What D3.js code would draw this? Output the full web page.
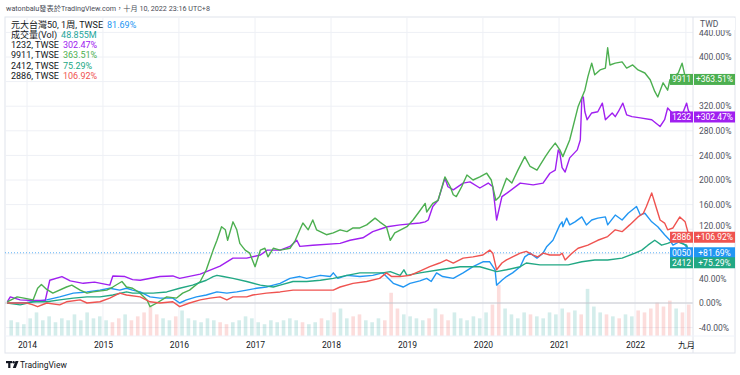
<!DOCTYPE html>
<html>
<head>
<meta charset="utf-8">
<script src="https://cdn.jsdelivr.net/npm/d3@7"></script>
<style>
body { margin:0; background:#fff; }
text { font-family: Roboto, "Noto Sans CJK TC", sans-serif; }
</style>
</head>
<body>
<div id="chart-area"></div>
<script>
// percent change since start, [decimal year, %]
const s0050 = [[2013.74,0],[2013.87,0],[2014.00,1],[2014.08,2],[2014.26,5],[2014.43,10],[2014.61,16],[2014.79,18],[2014.96,21],[2015.09,24],[2015.22,21],[2015.31,24],[2015.39,21],[2015.49,18],[2015.62,10],[2015.75,8],[2015.92,8],[2016.01,0],[2016.10,5],[2016.23,10],[2016.36,13],[2016.50,18],[2016.63,16],[2016.76,18],[2016.89,21],[2017.02,24],[2017.15,26],[2017.24,29],[2017.33,32],[2017.46,40],[2017.59,43],[2017.68,40],[2017.86,45],[2017.99,43],[2018.03,49],[2018.09,40],[2018.21,45],[2018.38,43],[2018.55,45],[2018.68,49],[2018.73,43],[2018.82,32],[2018.95,26],[2019.04,32],[2019.17,36],[2019.26,40],[2019.32,35],[2019.39,49],[2019.47,43],[2019.61,40],[2019.74,49],[2019.87,59],[2020.00,67],[2020.09,67],[2020.16,54],[2020.18,29],[2020.25,37],[2020.31,43],[2020.39,49],[2020.49,59],[2020.55,75],[2020.62,81],[2020.71,73],[2020.79,81],[2020.84,92],[2020.92,102],[2021.01,127],[2021.04,132],[2021.05,124],[2021.10,138],[2021.14,127],[2021.21,132],[2021.30,140],[2021.36,127],[2021.43,135],[2021.51,138],[2021.61,140],[2021.64,127],[2021.74,143],[2021.83,135],[2021.91,146],[2022.02,157],[2022.07,143],[2022.13,146],[2022.22,132],[2022.30,124],[2022.39,111],[2022.46,102],[2022.50,94],[2022.59,100],[2022.66,94],[2022.74,81.69]];

const s1232 = [[2013.74,2],[2013.78,10],[2013.91,5],[2014.08,4],[2014.24,4],[2014.30,37],[2014.46,43],[2014.57,36],[2014.74,32],[2014.89,34],[2015.09,29],[2015.13,44],[2015.29,43],[2015.39,38],[2015.49,37],[2015.75,43],[2015.92,44],[2016.01,40],[2016.28,47],[2016.54,60],[2016.71,73],[2016.89,73],[2017.07,78],[2017.16,86],[2017.33,86],[2017.46,92],[2017.55,102],[2017.59,92],[2017.76,94],[2018.12,97],[2018.25,102],[2018.42,106],[2018.55,116],[2018.74,124],[2018.91,127],[2019.17,130],[2019.24,132],[2019.28,135],[2019.34,157],[2019.41,167],[2019.50,203],[2019.54,189],[2019.61,184],[2019.74,195],[2019.83,197],[2019.96,187],[2020.07,195],[2020.13,189],[2020.18,135],[2020.25,173],[2020.32,179],[2020.49,195],[2020.66,192],[2020.79,195],[2020.88,211],[2020.95,216],[2020.99,249],[2021.01,244],[2021.04,220],[2021.08,213],[2021.14,236],[2021.24,249],[2021.28,265],[2021.30,333],[2021.32,335],[2021.34,311],[2021.37,298],[2021.43,309],[2021.51,311],[2021.57,325],[2021.61,298],[2021.70,309],[2021.74,303],[2021.78,311],[2021.84,325],[2021.89,306],[2021.96,303],[2022.07,301],[2022.22,298],[2022.33,287],[2022.39,298],[2022.43,317],[2022.49,309],[2022.57,311],[2022.62,306],[2022.68,325],[2022.70,314],[2022.74,302.47]];

const s9911 = [[2013.74,2],[2013.87,10],[2013.96,8],[2014.08,5],[2014.14,24],[2014.19,30],[2014.26,22],[2014.34,16],[2014.52,26],[2014.59,29],[2014.70,21],[2014.79,16],[2014.87,18],[2015.05,21],[2015.13,26],[2015.25,35],[2015.31,26],[2015.39,24],[2015.49,16],[2015.58,5],[2015.62,-6],[2015.71,0],[2015.84,10],[2015.97,8],[2016.05,16],[2016.14,21],[2016.28,35],[2016.36,54],[2016.45,86],[2016.50,102],[2016.56,124],[2016.61,119],[2016.64,102],[2016.71,132],[2016.76,119],[2016.80,97],[2016.87,86],[2016.93,81],[2017.00,59],[2017.07,86],[2017.13,89],[2017.17,75],[2017.24,89],[2017.33,86],[2017.46,89],[2017.53,102],[2017.59,119],[2017.63,130],[2017.70,119],[2017.76,135],[2017.81,119],[2017.94,111],[2018.03,114],[2018.12,119],[2018.21,116],[2018.29,122],[2018.38,122],[2018.47,127],[2018.58,138],[2018.64,132],[2018.73,124],[2018.78,102],[2018.84,114],[2019.00,124],[2019.08,135],[2019.17,150],[2019.24,162],[2019.26,148],[2019.34,162],[2019.41,167],[2019.50,205],[2019.57,189],[2019.61,176],[2019.65,173],[2019.72,189],[2019.79,208],[2019.87,200],[2019.96,205],[2020.05,211],[2020.11,200],[2020.17,167],[2020.22,173],[2020.31,203],[2020.38,195],[2020.46,216],[2020.55,238],[2020.62,222],[2020.71,216],[2020.82,238],[2020.88,249],[2020.95,260],[2021.01,249],[2021.05,238],[2021.14,265],[2021.25,319],[2021.34,346],[2021.38,368],[2021.43,390],[2021.47,371],[2021.54,379],[2021.61,382],[2021.64,415],[2021.67,387],[2021.74,390],[2021.83,392],[2021.89,382],[2021.97,387],[2022.04,379],[2022.13,374],[2022.20,363],[2022.26,344],[2022.30,335],[2022.37,358],[2022.43,346],[2022.46,363],[2022.57,374],[2022.62,390],[2022.66,368],[2022.74,363.51]];

const s2412 = [[2013.74,0],[2013.91,-3],[2014.08,2],[2014.26,2],[2014.43,5],[2014.61,8],[2014.79,10],[2014.96,10],[2015.13,13],[2015.31,18],[2015.39,16],[2015.49,16],[2015.66,16],[2015.84,18],[2016.01,24],[2016.18,29],[2016.36,37],[2016.45,43],[2016.50,45],[2016.58,43],[2016.71,40],[2016.89,35],[2017.07,29],[2017.24,26],[2017.33,29],[2017.50,35],[2017.68,35],[2017.86,37],[2018.03,40],[2018.21,45],[2018.38,49],[2018.55,49],[2018.68,49],[2018.78,51],[2018.91,45],[2018.96,54],[2019.00,45],[2019.17,49],[2019.43,54],[2019.70,59],[2019.96,59],[2020.18,51],[2020.31,54],[2020.49,59],[2020.57,65],[2020.75,62],[2021.01,62],[2021.12,62],[2021.30,67],[2021.47,70],[2021.64,70],[2021.83,73],[2022.00,81],[2022.09,86],[2022.17,94],[2022.26,102],[2022.35,94],[2022.43,97],[2022.53,102],[2022.61,97],[2022.68,94],[2022.70,86],[2022.74,75.29]];

const s2886 = [[2013.74,0],[2014.00,0],[2014.08,-3],[2014.14,-6],[2014.26,0],[2014.43,-3],[2014.52,2],[2014.70,5],[2014.79,0],[2014.96,2],[2015.09,8],[2015.22,16],[2015.31,13],[2015.49,10],[2015.62,2],[2015.75,0],[2015.92,2],[2016.01,-6],[2016.14,0],[2016.28,5],[2016.41,8],[2016.54,10],[2016.63,5],[2016.71,10],[2016.89,10],[2016.97,13],[2017.15,16],[2017.33,18],[2017.50,21],[2017.86,21],[2018.03,21],[2018.12,26],[2018.29,32],[2018.47,35],[2018.64,40],[2018.73,49],[2018.80,43],[2018.91,43],[2019.04,45],[2019.17,52],[2019.30,59],[2019.43,65],[2019.52,70],[2019.61,65],[2019.74,73],[2019.87,75],[2020.00,78],[2020.09,86],[2020.13,81],[2020.18,54],[2020.25,65],[2020.31,70],[2020.39,75],[2020.49,81],[2020.57,84],[2020.66,78],[2020.72,75],[2020.79,81],[2020.88,78],[2021.01,78],[2021.04,81],[2021.08,70],[2021.17,81],[2021.25,89],[2021.38,94],[2021.51,102],[2021.64,108],[2021.74,119],[2021.83,116],[2021.93,127],[2022.04,140],[2022.11,146],[2022.15,157],[2022.22,179],[2022.26,163],[2022.33,135],[2022.39,130],[2022.43,119],[2022.50,122],[2022.59,140],[2022.66,132],[2022.70,114],[2022.74,106.92]];

// 0050 volume, monthly average (M), from 2013-10
const volume = [40,35,30,
  45,60,40,50,35,45,40,55,40,60,45,50,
  40,35,45,55,40,50,60,75,55,45,40,50,
  65,45,40,35,45,40,35,30,35,40,50,45,
  35,30,40,35,40,45,40,35,30,35,45,40,
  60,70,45,50,55,40,35,45,40,110,70,55,
  50,45,40,45,70,55,40,60,45,40,50,45,
  60,80,130,70,55,45,60,55,50,45,60,55,
  70,60,65,55,120,75,60,55,50,45,55,50,
  65,60,70,85,75,90,70,60,80,50];

const series = [
  { code:"0050", data:s0050, last:81.69, color:"#2196f3" },
  { code:"1232", data:s1232, last:302.47, color:"#a020f0" },
  { code:"9911", data:s9911, last:363.51, color:"#4caf50" },
  { code:"2412", data:s2412, last:75.29, color:"#22a884" },
  { code:"2886", data:s2886, last:106.92, color:"#ef5350" }
];

const xTickLabels = ["2014","2015","2016","2017","2018","2019","2020","2021","2022","九月"];
const xTickDates = [2014,2015,2016,2017,2018,2019,2020,2021,2022,2022.67];
const yTicks = [-40,0,40,80,120,160,200,240,280,320,360,400,440];

const W = 740, H = 375;
const plot = { left:5, right:693, top:17, bottom:336 };
const FONT = 'Roboto, "Noto Sans CJK TC", sans-serif';

function toDate(t){
  const yr = Math.floor(t);
  const a = new Date(yr,0,1), b = new Date(yr+1,0,1);
  return new Date(+a + (t-yr)*(b-a));
}

const svg = d3.select("#chart-area").append("svg")
  .attr("width", W).attr("height", H);

const x = d3.scaleTime()
  .domain([new Date(2014,0,1), new Date(2022,0,1)])
  .range([27, 635]);
const y = d3.scaleLinear().domain([0,400]).range([303,57]);
const vy = d3.scaleLinear().domain([0,140]).range([plot.bottom, plot.bottom-55]);

svg.append("clipPath").attr("id","clip")
  .append("rect").attr("x",plot.left).attr("y",plot.top)
  .attr("width",plot.right-plot.left).attr("height",plot.bottom-plot.top);

// panel border
svg.append("rect").attr("x",5).attr("y",17).attr("width",730).attr("height",336)
  .attr("fill","none").attr("stroke","#e0e3eb");

// grid
const grid = svg.append("g").attr("clip-path","url(#clip)");
grid.selectAll(".vg").data(xTickDates).enter().append("line")
  .attr("x1",d=>x(toDate(d))).attr("x2",d=>x(toDate(d)))
  .attr("y1",plot.top).attr("y2",plot.bottom)
  .attr("stroke","#eef0f5");
grid.selectAll(".hg").data(yTicks).enter().append("line")
  .attr("x1",plot.left).attr("x2",plot.right)
  .attr("y1",d=>y(d)).attr("y2",d=>y(d))
  .attr("stroke","#eef0f5");

// volume bars
const g = svg.append("g").attr("clip-path","url(#clip)");
function valueAt(data, t){
  for (let i=1;i<data.length;i++){
    if (data[i][0] >= t){
      const a=data[i-1], b=data[i];
      return a[1] + (b[1]-a[1])*(t-a[0])/(b[0]-a[0]);
    }
  }
  return data[data.length-1][1];
}
const volBars = volume.map((v,i)=>{
  const t0 = 2013.75 + i/12, t1 = t0 + 1/12;
  const up = valueAt(s0050, Math.min(t1,2022.74)) >= valueAt(s0050, t0);
  return { t:t0 + 1/24, v:v, up:up };
});
g.selectAll(".vol").data(volBars).enter().append("rect")
  .attr("x",d=>x(toDate(d.t))-1.8)
  .attr("width",3.6)
  .attr("y",d=>vy(d.v))
  .attr("height",d=>plot.bottom-vy(d.v))
  .attr("fill",d=>d.up ? "#26a69a" : "#ef5350")
  .attr("opacity",0.2);

// zero line
g.append("line").attr("x1",plot.left).attr("x2",plot.right)
  .attr("y1",y(0)).attr("y2",y(0)).attr("stroke","#c8cad0");

// last value dotted line of main symbol
g.append("line").attr("x1",plot.left).attr("x2",plot.right)
  .attr("y1",y(81.69)).attr("y2",y(81.69))
  .attr("stroke","#2196f3").attr("stroke-dasharray","1,2").attr("opacity",0.7);

const line = d3.line()
  .x(d=>x(toDate(d[0])))
  .y(d=>y(d[1]));

g.selectAll(".series").data(series).enter().append("path")
  .attr("d",d=>line(d.data))
  .attr("fill","none")
  .attr("stroke",d=>d.color)
  .attr("stroke-width",1.4)
  .attr("stroke-linejoin","round");

// last value tags, pushed apart
const tags = series.map(s=>({ s:s, y:y(s.last) })).sort((a,b)=>a.y-b.y);
for (let i=1;i<tags.length;i++){
  if (tags[i].y - tags[i-1].y < 10) tags[i].y = tags[i-1].y + 10;
}

// right axis (labels under a tag are hidden, close ones nudged away)
svg.append("line").attr("x1",plot.right).attr("x2",plot.right)
  .attr("y1",17).attr("y2",353).attr("stroke","#e0e3eb");
const shownTicks = yTicks.filter(t=>tags.every(tg=>Math.abs(y(t)-tg.y) > 7.5));
const yAxis = svg.append("g")
  .attr("transform","translate(" + plot.right + ",0)")
  .call(d3.axisRight(y).tickValues(shownTicks).tickSize(0).tickPadding(6)
    .tickFormat(d=>d.toFixed(2)+"%"));
yAxis.select(".domain").remove();
yAxis.selectAll("text").attr("font-size","8.5px").attr("fill","#50535e")
  .attr("font-family",FONT)
  .attr("y",function(d){
    let off = 0;
    tags.forEach(tg=>{
      const dd = y(d) - tg.y;
      if (Math.abs(dd) < 11) off += (dd < 0 ? -1 : 1) * (11 - Math.abs(dd));
    });
    return off;
  });

// TWD header covering the top of the scale
svg.append("rect").attr("x",plot.right+1).attr("y",18).attr("width",41).attr("height",12).attr("fill","#fff");
svg.append("text").attr("x",700).attr("y",27).attr("font-size","8.5px").attr("fill","#50535e").text("TWD");

// time axis
svg.append("line").attr("x1",plot.left).attr("x2",735)
  .attr("y1",plot.bottom).attr("y2",plot.bottom).attr("stroke","#f0f3fa");
const xAxis = svg.append("g")
  .attr("transform","translate(0," + plot.bottom + ")")
  .call(d3.axisBottom(x).tickValues(xTickDates.map(toDate)).tickSize(0).tickPadding(6)
    .tickFormat((d,i)=>xTickLabels[i]));
xAxis.select(".domain").remove();
xAxis.selectAll("text").attr("font-size","8.5px").attr("fill","#131722")
  .attr("font-family",FONT);

const tag = svg.selectAll(".tag").data(tags).enter().append("g");
tag.append("rect").attr("x",670).attr("y",d=>d.y-5.5).attr("width",23).attr("height",11)
  .attr("fill",d=>d.s.color);
tag.append("rect").attr("x",694).attr("y",d=>d.y-5.5).attr("width",41).attr("height",11)
  .attr("fill",d=>d.s.color);
tag.append("text").attr("x",681.5).attr("y",d=>d.y+3).attr("text-anchor","middle")
  .attr("font-size","8.5px").attr("fill","#fff").text(d=>d.s.code);
tag.append("text").attr("x",714.5).attr("y",d=>d.y+3).attr("text-anchor","middle")
  .attr("font-size","8.5px").attr("fill","#fff").text(d=>"+" + d.s.last.toFixed(2) + "%");

// header
svg.append("text").attr("x",6).attr("y",11).attr("font-size","7.2px").attr("fill","#4a4d57")
  .text("watonbalu發表於TradingView.com，十月 10, 2022 23:16 UTC+8");

// legend
const legendNames = ["元大台灣50, 1周, TWSE","成交量(Vol)","1232, TWSE","9911, TWSE","2412, TWSE","2886, TWSE"];
const legendValues = ["81.69%","48.855M","302.47%","363.51%","75.29%","106.92%"];
const legendColors = ["#2196f3","#26a69a","#a020f0","#4caf50","#22a884","#ef5350"];
const leg = svg.selectAll(".leg").data(legendNames).enter().append("text")
  .attr("x",11).attr("y",(d,i)=>27.5 + i*10.3).attr("font-size","9px");
leg.append("tspan").attr("fill","#131722").text(d=>d);
leg.append("tspan").attr("dx",4).attr("fill",(d,i)=>legendColors[i]).text((d,i)=>legendValues[i]);

// TradingView mark
const logo = svg.append("g").attr("transform","translate(6,361)");
logo.append("rect").attr("x",0).attr("y",0).attr("width",6).attr("height",2.2).attr("fill","#131722");
logo.append("rect").attr("x",2.2).attr("y",0).attr("width",2.2).attr("height",7).attr("fill","#131722");
logo.append("circle").attr("cx",7.6).attr("cy",1.2).attr("r",1.2).attr("fill","#131722");
logo.append("path").attr("d","M9.5,0 L12.5,0 L9.8,7 L6.8,7 Z").attr("fill","#131722");
svg.append("text").attr("x",20).attr("y",367.5).attr("font-size","8.5px").attr("fill","#131722").text("TradingView");
</script>
</body>
</html>
